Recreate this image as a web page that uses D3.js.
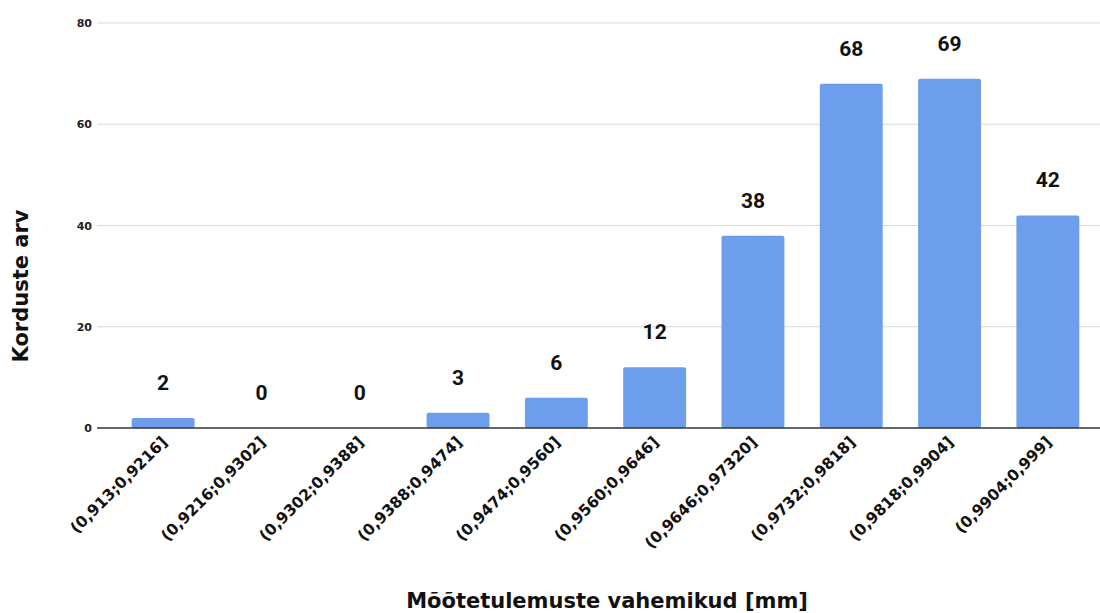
<!DOCTYPE html>
<meta charset="utf-8">
<script src="https://d3js.org/d3.v7.min.js"></script>
<style>
  body { margin: 0; background: #fff; }
</style>
<div id="my_dataviz"></div>
<script>
// data
var categories = ["(0,913;0,9216]", "(0,9216;0,9302]", "(0,9302;0,9388]", "(0,9388;0,9474]",
  "(0,9474;0,9560]", "(0,9560;0,9646]", "(0,9646;0,97320]", "(0,9732;0,9818]",
  "(0,9818;0,9904]", "(0,9904;0,999]"];
var counts = [2, 0, 0, 3, 6, 12, 38, 68, 69, 42];
var yTicks = [0, 20, 40, 60, 80];

var width = 1100, height = 613;

var svg = d3.select("#my_dataviz")
  .append("svg")
    .attr("width", width)
    .attr("height", height);

var x = d3.scaleBand()
  .domain(categories)
  .range([114, 1097])
  .paddingInner(0.36)
  .paddingOuter(0.18);

var y = d3.scaleLinear()
  .domain([0, 80])
  .range([428, 23]);

// gridlines
svg.append("g")
  .selectAll("line")
  .data(yTicks.filter(function(d) { return d > 0; }))
  .enter().append("line")
    .attr("x1", 97).attr("x2", 1100)
    .attr("y1", function(d) { return y(d); })
    .attr("y2", function(d) { return y(d); })
    .attr("stroke", "#d9d9d9")
    .attr("stroke-width", 1);

// y tick labels
svg.append("g")
  .selectAll("text")
  .data(yTicks)
  .enter().append("text")
    .attr("x", 92)
    .attr("y", function(d) { return y(d) + 4; })
    .attr("text-anchor", "end")
    .attr("font-family", "DejaVu Sans, sans-serif")
    .attr("font-size", 11)
    .attr("font-weight", "bold")
    .attr("fill", "#222")
    .text(function(d) { return d; });

// bars
svg.selectAll("rect.bar")
  .data(categories)
  .enter().append("rect")
    .attr("class", "bar")
    .attr("x", function(d) { return x(d); })
    .attr("width", x.bandwidth())
    .attr("y", function(d, i) { return y(counts[i]); })
    .attr("height", function(d, i) { return y(0) - y(counts[i]); })
    .attr("rx", 2)
    .attr("fill", "#6d9eeb");

// baseline
svg.append("line")
  .attr("x1", 97).attr("x2", 1100)
  .attr("y1", y(0)).attr("y2", y(0))
  .attr("stroke", "#333")
  .attr("stroke-width", 1.5);

// value labels
svg.append("g")
  .selectAll("text")
  .data(categories)
  .enter().append("text")
    .attr("x", function(d) { return x(d) + x.bandwidth() / 2; })
    .attr("y", function(d, i) { return y(counts[i]) - 28; })
    .attr("text-anchor", "middle")
    .attr("font-family", "Roboto, Arial, sans-serif")
    .attr("font-size", 21)
    .attr("font-weight", "bold")
    .attr("fill", "#111")
    .text(function(d, i) { return counts[i]; });

// x tick labels, rotated
svg.append("g")
  .selectAll("text")
  .data(categories)
  .enter().append("text")
    .attr("transform", function(d) {
      return "translate(" + (x(d) + x.bandwidth() / 2 + 5) + ",443) rotate(-45)";
    })
    .attr("text-anchor", "end")
    .attr("font-family", "DejaVu Sans, sans-serif")
    .attr("font-size", 15.5)
    .attr("font-weight", "bold")
    .attr("fill", "#111")
    .text(function(d) { return d; });

// axis titles
svg.append("text")
  .attr("x", 607)
  .attr("y", 608)
  .attr("text-anchor", "middle")
  .attr("font-family", "DejaVu Sans, sans-serif")
  .attr("font-size", 21)
  .attr("font-weight", "bold")
  .attr("fill", "#111")
  .text("Mõõtetulemuste vahemikud [mm]");

svg.append("text")
  .attr("transform", "translate(28,286) rotate(-90)")
  .attr("text-anchor", "middle")
  .attr("font-family", "DejaVu Sans, sans-serif")
  .attr("font-size", 21)
  .attr("font-weight", "bold")
  .attr("fill", "#111")
  .text("Korduste arv");
</script>
